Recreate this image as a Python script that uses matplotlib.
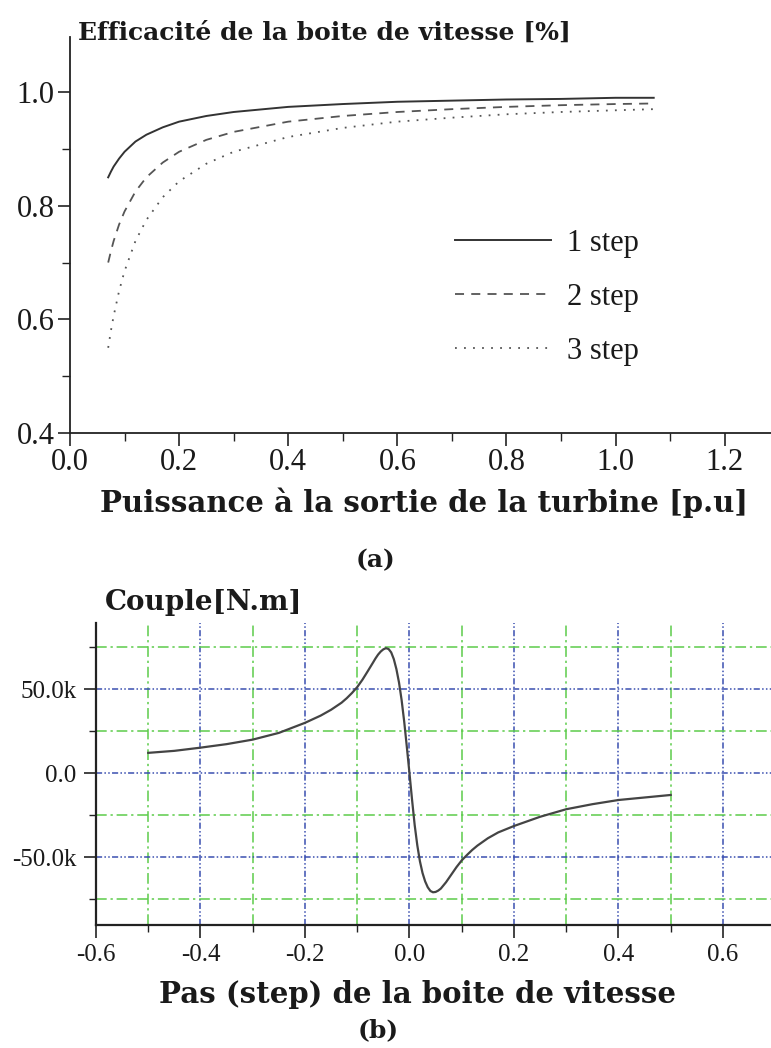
import matplotlib
matplotlib.use("Agg")
import matplotlib.pyplot as plt
from matplotlib.ticker import MultipleLocator, FuncFormatter

# ---- data (a) ----
power_pu = [0.07, 0.075, 0.08, 0.09, 0.10, 0.12, 0.14, 0.17, 0.20, 0.25, 0.30,
            0.40, 0.50, 0.60, 0.70, 0.80, 0.90, 1.00, 1.07]
eff_1step = [0.850, 0.860, 0.869, 0.883, 0.895, 0.913, 0.925, 0.938, 0.948, 0.958, 0.965,
             0.974, 0.979, 0.983, 0.985, 0.987, 0.988, 0.990, 0.990]
eff_2step = [0.700, 0.720, 0.738, 0.767, 0.790, 0.825, 0.850, 0.876, 0.895, 0.916, 0.930,
             0.948, 0.958, 0.965, 0.970, 0.974, 0.977, 0.979, 0.980]
eff_3step = [0.550, 0.580, 0.606, 0.650, 0.685, 0.738, 0.775, 0.815, 0.843, 0.874, 0.895,
             0.921, 0.937, 0.948, 0.955, 0.961, 0.965, 0.968, 0.970]
legend_labels = ["1 step", "2 step", "3 step"]

# ---- data (b) ----
step = [-0.50, -0.45, -0.40, -0.35, -0.30, -0.25, -0.20, -0.17, -0.15, -0.13, -0.12, -0.11,
        -0.10, -0.09, -0.08, -0.07, -0.065, -0.06, -0.055, -0.05, -0.045, -0.04,
        -0.035, -0.030, -0.025, -0.020, -0.015, -0.010, -0.005, 0.0,
        0.005, 0.010, 0.015, 0.020, 0.025, 0.030, 0.035, 0.040, 0.045, 0.050,
        0.055, 0.060, 0.070, 0.080, 0.090, 0.10, 0.11, 0.12, 0.13, 0.15, 0.17,
        0.20, 0.25, 0.30, 0.35, 0.40, 0.45, 0.50]
couple = [12.1e3, 13.3e3, 15.2e3, 17.3e3, 20.0e3, 24.0e3, 30.0e3, 34.3e3, 37.8e3, 42.0e3,
          44.7e3, 47.8e3, 51.3e3, 55.7e3, 60.7e3, 65.8e3, 68.4e3, 70.7e3, 72.5e3, 73.8e3,
          74.5e3, 74.0e3, 72.0e3, 68.0e3, 62.0e3, 54.0e3, 43.5e3, 30.5e3, 15.5e3, 0.0,
          -16.0e3, -31.0e3, -43.0e3, -52.5e3, -59.5e3, -64.5e3, -68.0e3, -70.2e3, -71.0e3,
          -70.8e3, -70.0e3, -68.8e3, -65.0e3, -60.5e3, -56.0e3, -52.0e3, -48.8e3, -45.8e3,
          -43.2e3, -38.8e3, -35.3e3, -31.5e3, -26.0e3, -21.5e3, -18.5e3, -16.0e3, -14.5e3,
          -13.0e3]

serif = ["Liberation Serif", "DejaVu Serif"]
bold_serif = ["DejaVu Serif", "Liberation Serif"]
plt.rcParams["font.family"] = serif
txt = "#1a1a1a"

fig = plt.figure(figsize=(7.71, 10.48), dpi=100)

# ---------------- (a) ----------------
ax1 = fig.add_axes([70/771, 1-433/1048, 1-70/771, (433-37)/1048])
l1, = ax1.plot(power_pu, eff_1step, color="#333333", lw=1.4, ls="-")
l2, = ax1.plot(power_pu, eff_2step, color="#555555", lw=1.3, ls=(0, (5, 4)))
l3, = ax1.plot(power_pu, eff_3step, color="#555555", lw=1.3, ls=(0, (1, 4)))
ax1.set_xlim(0, 1.285)
ax1.set_ylim(0.4, 1.097)
ax1.xaxis.set_major_locator(MultipleLocator(0.2))
ax1.xaxis.set_minor_locator(MultipleLocator(0.1))
ax1.yaxis.set_major_locator(MultipleLocator(0.2))
ax1.yaxis.set_minor_locator(MultipleLocator(0.1))
ax1.xaxis.set_major_formatter(FuncFormatter(lambda v, p: f"{v:.1f}"))
ax1.yaxis.set_major_formatter(FuncFormatter(lambda v, p: f"{v:.1f}"))
for s in ["top", "right"]:
    ax1.spines[s].set_visible(False)
for s in ["left", "bottom"]:
    ax1.spines[s].set_linewidth(1.3)
    ax1.spines[s].set_color("#222222")
ax1.tick_params(which="major", length=9, width=1.2, color="#222222", labelsize=22,
                labelcolor=txt, pad=2)
ax1.tick_params(which="minor", length=6, width=1.0, color="#222222")
ax1.legend([l1, l2, l3], legend_labels, loc="upper left", bbox_to_anchor=(0.51, 0.585),
           frameon=False, prop={"family": serif, "size": 22}, handlelength=3.15,
           labelspacing=0.82, handletextpad=0.5, labelcolor=txt)

fig.text(78/771, 1-40/1048, "Efficacité de la boite de vitesse [%]", family=bold_serif,
         weight="bold", size=18, color=txt, ha="left", va="baseline")
fig.text(424/771, 1-512/1048, "Puissance à la sortie de la turbine [p.u]", family=bold_serif,
         weight="bold", size=21, color=txt, ha="center", va="baseline")
fig.text(376/771, 1-567/1048, "(a)", family=bold_serif, weight="bold", size=18,
         color=txt, ha="center", va="baseline")

# ---------------- (b) ----------------
ax2 = fig.add_axes([96/771, 1-925/1048, 1-96/771, (925-623)/1048])
ax2.set_xlim(-0.6, 0.692)
ax2.set_ylim(-90.5e3, 89.5e3)
ax2.xaxis.set_major_locator(MultipleLocator(0.2))
ax2.xaxis.set_minor_locator(MultipleLocator(0.1))
ax2.yaxis.set_major_locator(MultipleLocator(50e3))
ax2.yaxis.set_minor_locator(MultipleLocator(25e3))
ax2.xaxis.set_major_formatter(FuncFormatter(lambda v, p: f"{v:.1f}"))
ax2.yaxis.set_major_formatter(
    FuncFormatter(lambda v, p: "0.0" if abs(v) < 1 else f"{v/1e3:.1f}k"))
blue = "#3a4fb0"
green = "#5ccc4a"
ax2.grid(which="major", color=blue, lw=1.1, ls=(0, (4, 1.5, 1, 1.5, 1, 1.5)))
ax2.grid(which="minor", color=green, lw=1.1, ls=(0, (7, 2.5, 1.5, 2.5)))
ax2.set_axisbelow(True)
ax2.plot(step, couple, color="#444444", lw=1.6)
for s in ["top", "right"]:
    ax2.spines[s].set_visible(False)
for s in ["left", "bottom"]:
    ax2.spines[s].set_linewidth(1.6)
    ax2.spines[s].set_color("#222222")
ax2.tick_params(which="major", length=9, width=1.2, color="#222222", labelsize=18,
                labelcolor=txt, pad=5)
ax2.tick_params(which="minor", length=5, width=1.0, color="#222222")

fig.text(105/771, 1-610/1048, "Couple[N.m]", family=bold_serif, weight="bold", size=20,
         color=txt, ha="left", va="baseline")
fig.text(418/771, 1-1003/1048, "Pas (step) de la boite de vitesse", family=bold_serif,
         weight="bold", size=21, color=txt, ha="center", va="baseline")
fig.text(378/771, 1-1037/1048, "(b)", family=bold_serif, weight="bold", size=18,
         color=txt, ha="center", va="baseline")

fig.savefig("out.png", dpi=100)
